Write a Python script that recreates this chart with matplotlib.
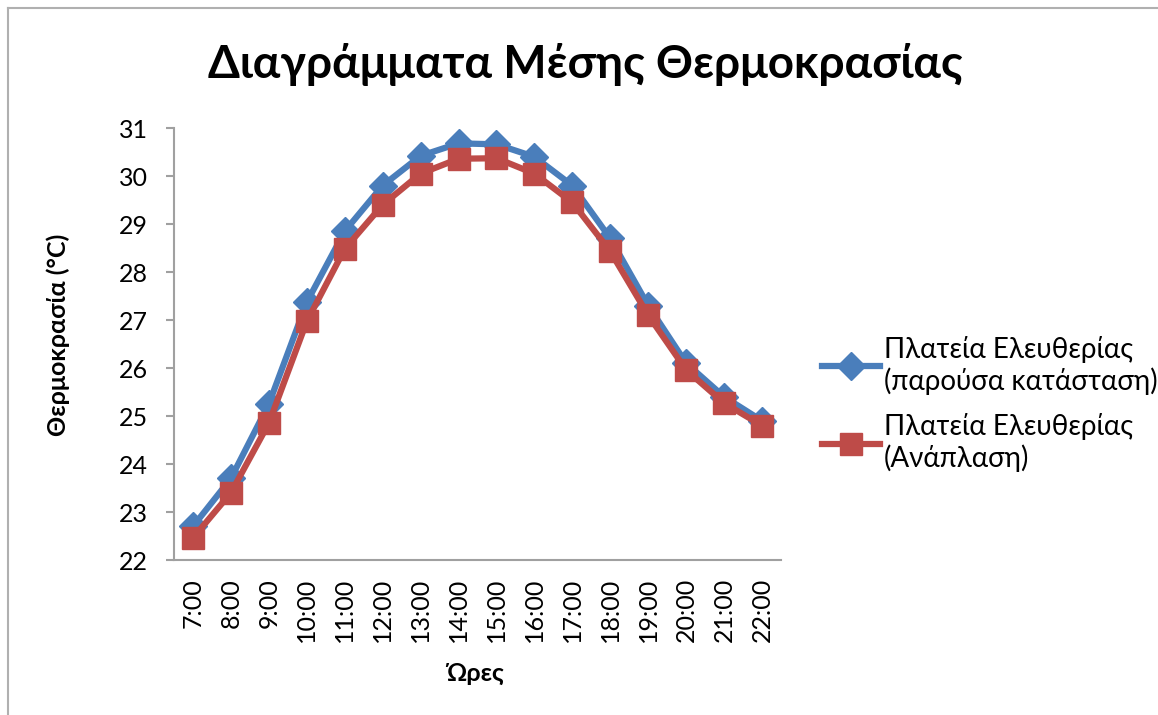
import matplotlib.pyplot as plt
import numpy as np
from matplotlib.lines import Line2D

hours = ['7:00', '8:00', '9:00', '10:00', '11:00', '12:00', '13:00', '14:00',
         '15:00', '16:00', '17:00', '18:00', '19:00', '20:00', '21:00', '22:00']
current = [22.7, 23.7, 25.25, 27.37, 28.85, 29.8, 30.42, 30.68,
           30.66, 30.4, 29.8, 28.7, 27.3, 26.1, 25.4, 24.9]
redesign = [22.46, 23.4, 24.85, 26.97, 28.48, 29.4, 30.05, 30.36,
            30.37, 30.05, 29.45, 28.43, 27.1, 25.96, 25.27, 24.8]
labels = ['Πλατεία Ελευθερίας\n(παρούσα κατάσταση)', 'Πλατεία Ελευθερίας\n(Ανάπλαση)']

plt.rcParams['font.family'] = ['Lato', 'DejaVu Sans']

fig = plt.figure(figsize=(11.58, 7.15), dpi=100)
ax = fig.add_axes([174 / 1158, 155 / 715, (781 - 174) / 1158, (560 - 128) / 715])

x = np.arange(len(hours))
ax.plot(x, current, color='#4A7EBB', lw=4.5, marker='D', markersize=14,
        label=labels[0], zorder=3)
ax.plot(x, redesign, color='#BE4B48', lw=4.5, marker='s', markersize=16,
        label=labels[1], zorder=4)

ax.set_xlim(-0.5, 15.5)
ax.set_ylim(22, 31)
ax.set_yticks(range(22, 32))
ax.set_xticks(x)
ax.set_xticklabels(hours, rotation=90, fontsize=18)
ax.tick_params(axis='y', labelsize=18, length=6, width=1.5, color='#A0A0A0', pad=13)
ax.tick_params(axis='x', length=0, pad=13)

for s in ['top', 'right']:
    ax.spines[s].set_visible(False)
for s in ['left', 'bottom']:
    ax.spines[s].set_color('#A0A0A0')
    ax.spines[s].set_linewidth(1.5)

ax.set_ylabel('Θερμοκρασία (°C)', fontsize=18, fontweight='bold')
ax.yaxis.set_label_coords(-0.171, 0.52)
ax.set_xlabel('Ώρες', fontsize=18, fontweight='bold')
ax.xaxis.set_label_coords(0.496, -0.236)

fig.suptitle('Διαγράμματα Μέσης Θερμοκρασίας', x=585 / 1158, y=1 - 65 / 715,
             va='center', fontsize=33, fontweight='bold')

ax.legend(loc='upper left', bbox_to_anchor=(822 / 1158, 1 - 336 / 715),
          bbox_transform=fig.transFigure, frameon=False, fontsize=20,
          borderpad=0, borderaxespad=0, handlelength=2.1, handletextpad=0.12,
          labelspacing=0.65, numpoints=1)

# outer chart border
fig.add_artist(Line2D([8 / 1158, 1], [1 - 8 / 715, 1 - 8 / 715], color='#B0B0B0', lw=1.5))
fig.add_artist(Line2D([8 / 1158, 8 / 1158], [0, 1 - 8 / 715], color='#B0B0B0', lw=1.5))

fig.savefig('out.png', dpi=100)
